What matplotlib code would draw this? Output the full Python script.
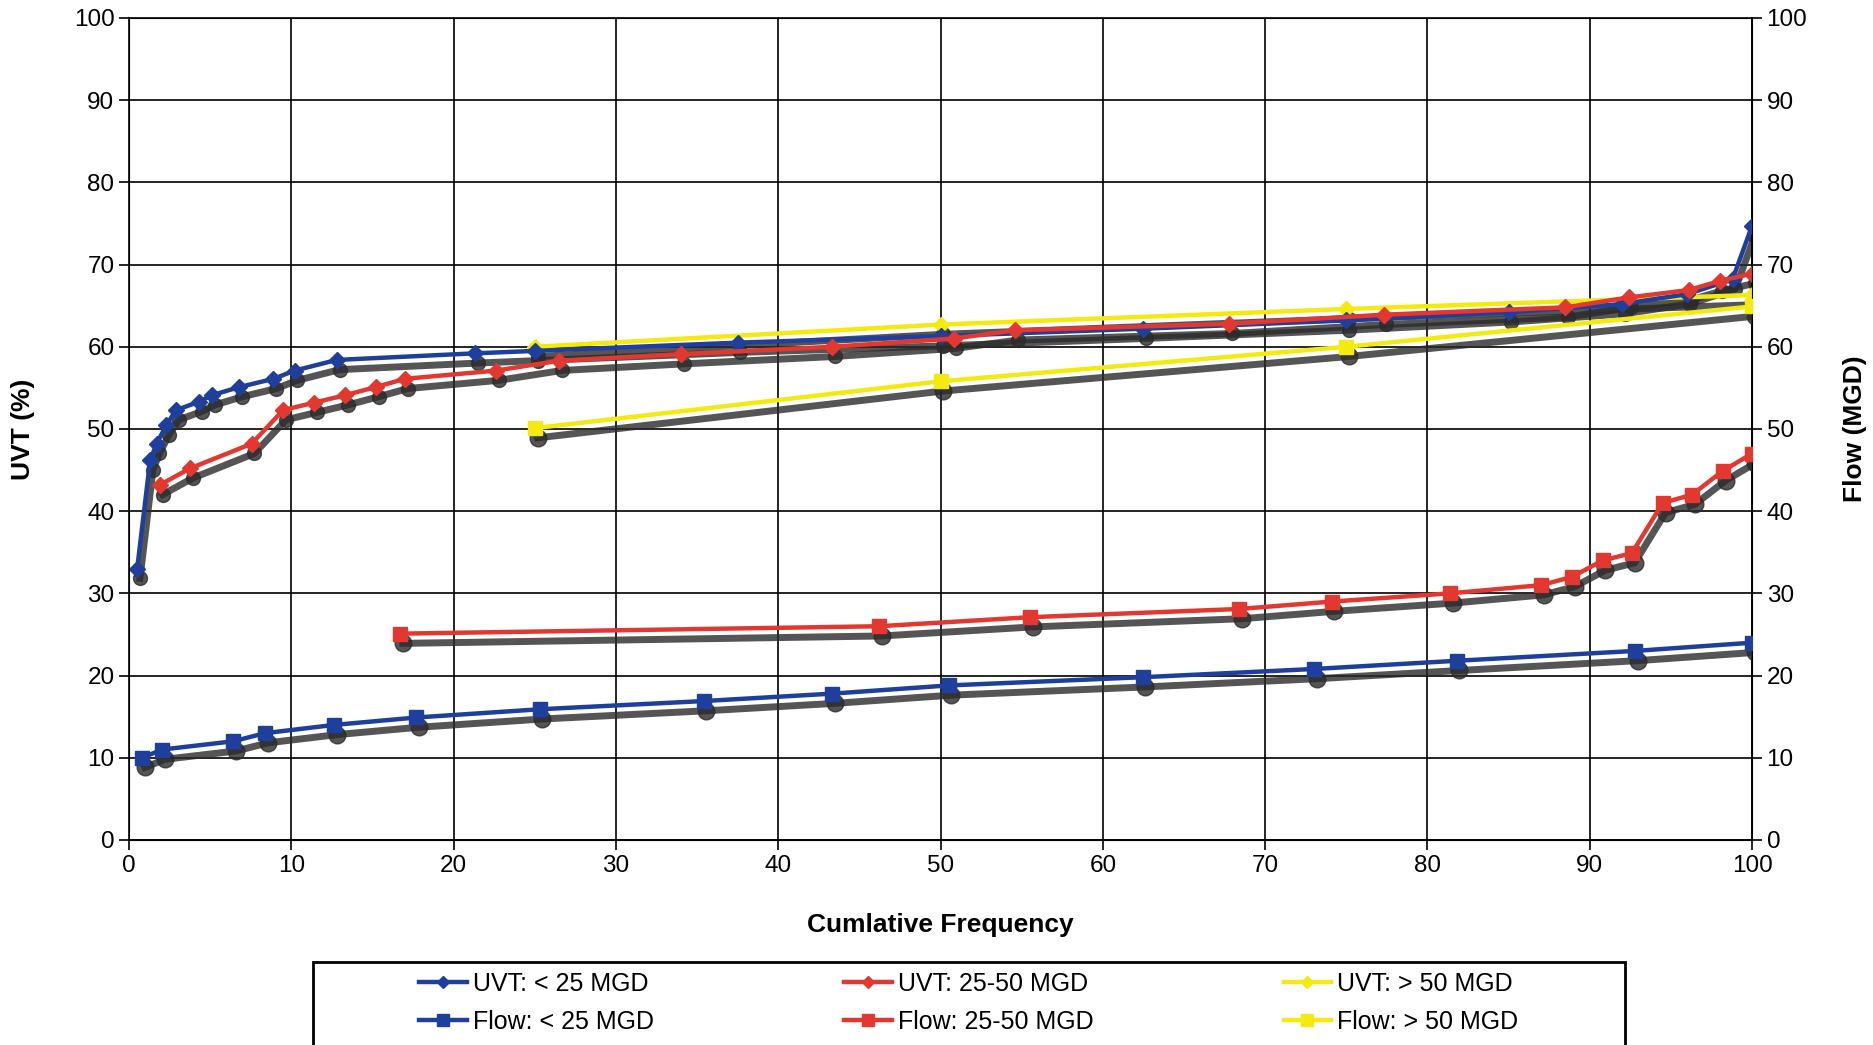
import matplotlib.pyplot as plt
from matplotlib.transforms import ScaledTranslation
from matplotlib.patches import Rectangle

plt.rcParams['font.family'] = ['Liberation Sans', 'DejaVu Sans']

# UVT series (left axis)
uvt_lo_x = [0.5, 1.3, 1.7, 2.3, 2.9, 4.3, 5.1, 6.8, 8.9, 10.2, 12.8, 21.3, 25, 37.5,
            50, 62.5, 75, 85, 92, 96, 98.8, 100]
uvt_lo_y = [33, 46.2, 48.2, 50.5, 52.3, 53.3, 54.1, 55.1, 56.1, 57.1, 58.4, 59.2, 59.5, 60.5,
            61.3, 62.2, 63.2, 64.2, 65.2, 66.4, 68.2, 74.7]

uvt_mid_x = [1.9, 3.75, 7.55, 9.5, 11.4, 13.3, 15.2, 17.0, 22.6, 26.5, 34, 43.3, 50.8,
             54.6, 67.8, 77.3, 88.5, 92.4, 96.1, 98, 100]
uvt_mid_y = [43.2, 45.2, 48.2, 52.3, 53.2, 54.1, 55.1, 56.1, 57.1, 58.3, 59.1, 60.0, 61.0,
             62.0, 62.8, 63.9, 64.8, 66.0, 66.9, 68.0, 68.9]

uvt_hi_x = [25, 50, 75, 100]
uvt_hi_y = [60.0, 62.7, 64.6, 66.3]

# Flow series (right axis)
flow_lo_x = [0.8, 2.05, 6.4, 8.4, 12.65, 17.7, 25.3, 35.4, 43.3, 50.5, 62.45, 73, 81.8, 92.8, 100]
flow_lo_y = [10, 11, 12, 13, 14, 14.9, 15.9, 16.9, 17.8, 18.8, 19.8, 20.8, 21.8, 23, 24]

flow_mid_x = [16.7, 46.2, 55.5, 68.4, 74.1, 81.4, 87, 88.9, 90.8, 92.6, 94.5, 96.3, 98.2, 100]
flow_mid_y = [25.1, 26, 27.1, 28.1, 29, 30, 31, 32, 34, 34.9, 41, 42, 44.9, 47]

flow_hi_x = [25, 50, 75, 100]
flow_hi_y = [50.1, 55.8, 60, 64.9]

blue = '#1f3f9c'
red = '#e2382f'
yellow = '#f4ea10'

fig = plt.figure(figsize=(18.73, 10.45), dpi=100)
ax = fig.add_axes([0.0689, 0.1962, 0.8665, 0.7866])
ax2 = ax.twinx()

series = [
    (ax, uvt_lo_x, uvt_lo_y, blue, 'D', 8, 'UVT: < 25 MGD', 6),
    (ax2, flow_lo_x, flow_lo_y, blue, 's', 10, 'Flow: < 25 MGD', 6),
    (ax, uvt_mid_x, uvt_mid_y, red, 'D', 8, 'UVT: 25-50 MGD', 7),
    (ax2, flow_mid_x, flow_mid_y, red, 's', 10, 'Flow: 25-50 MGD', 6),
    (ax, uvt_hi_x, uvt_hi_y, yellow, 'D', 8, 'UVT: > 50 MGD', 5),
    (ax2, flow_hi_x, flow_hi_y, yellow, 's', 10, 'Flow: > 50 MGD', 6),
]

# drop shadows first (offset copies, like the old Excel chart)
shift = ScaledTranslation(2 / 72, -7 / 72, fig.dpi_scale_trans)
for a, x, y, c, m, ms, lab, z in series:
    a.plot(x, y, color='#2b2b2b', lw=5, alpha=0.8, marker='o', ms=ms + 2,
           transform=a.transData + shift, zorder=2)

handles = {}
for a, x, y, c, m, ms, lab, z in series:
    l, = a.plot(x, y, color=c, lw=3.2, marker=m, ms=ms, label=lab, zorder=z)
    handles[lab] = l

for a in (ax, ax2):
    a.set_xlim(0, 100)
    a.set_ylim(0, 100)
    a.set_yticks(range(0, 101, 10))
    a.tick_params(labelsize=17.5, length=7, width=1.2, direction='out')
ax.set_xticks(range(0, 101, 10))
ax.grid(True, color='black', lw=1.2)
ax.set_axisbelow(True)
for s in ax.spines.values():
    s.set_linewidth(1.2)

ax.set_xlabel('Cumlative Frequency', fontsize=19, fontweight='bold', labelpad=26)
ax.set_ylabel('UVT (%)', fontsize=19, fontweight='bold', labelpad=28)
ax2.set_ylabel('Flow (MGD)', fontsize=19, fontweight='bold', labelpad=26)

# legend box
fig.patches.append(Rectangle((313 / 1873, -0.01), (1625 - 313) / 1873, (1045 - 962) / 1045 + 0.01,
                             transform=fig.transFigure, fill=False, edgecolor='black', lw=2))
order = ['UVT: < 25 MGD', 'Flow: < 25 MGD', 'UVT: 25-50 MGD', 'Flow: 25-50 MGD',
         'UVT: > 50 MGD', 'Flow: > 50 MGD']
leg = fig.legend(handles=[handles[k] for k in order], ncol=3, loc='center',
                 bbox_to_anchor=(969 / 1873, 1 - 1003 / 1045), fontsize=18, frameon=False,
                 handlelength=1.9, handletextpad=0.25, columnspacing=7.6, labelspacing=0.55,
                 markerscale=0.8)

fig.savefig('out.png', dpi=100)
